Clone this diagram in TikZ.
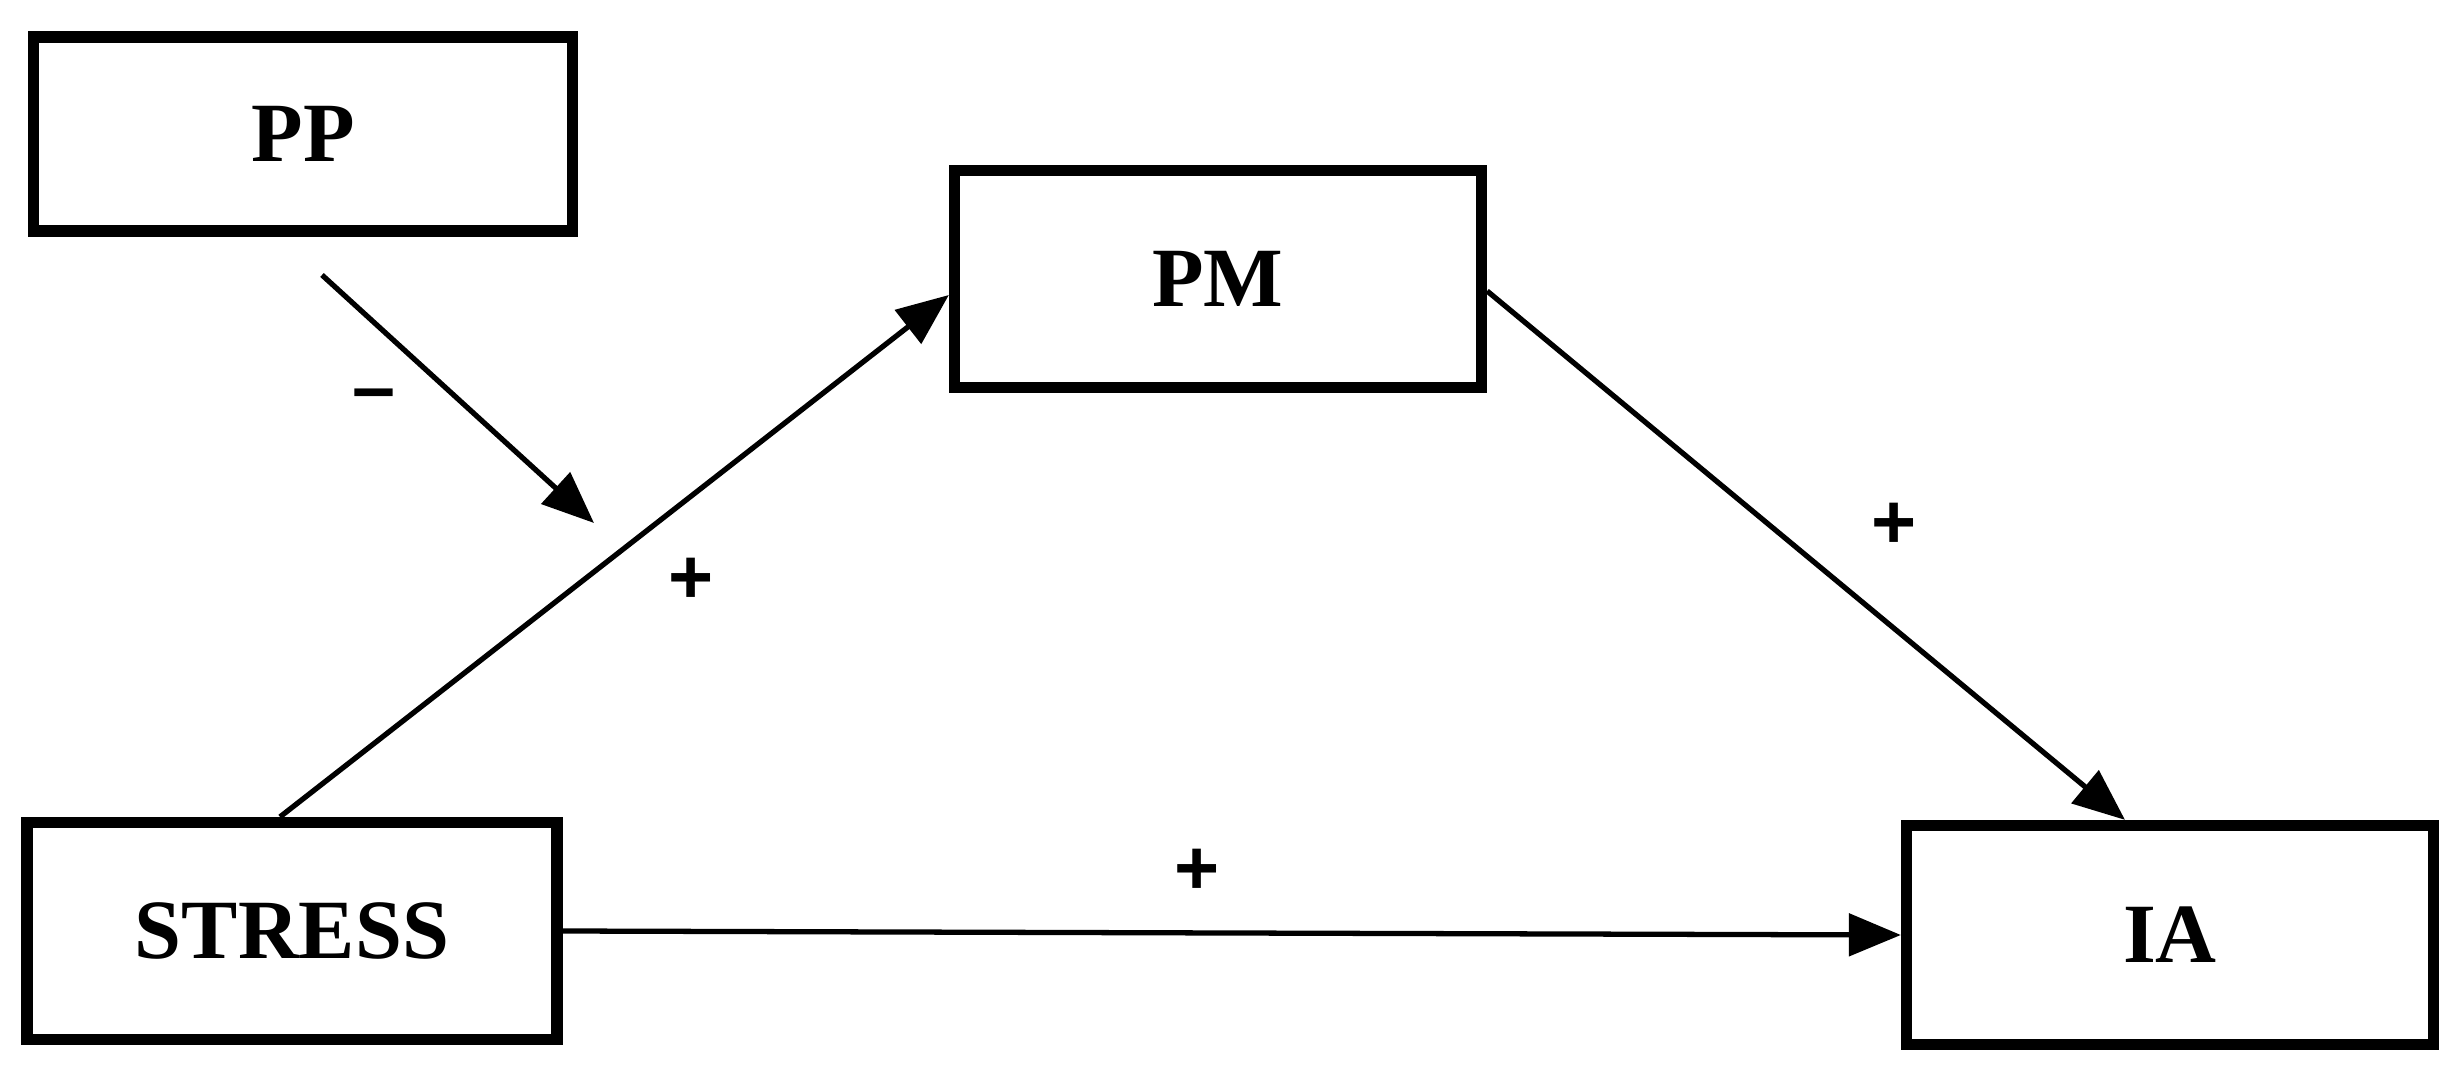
\documentclass[tikz,border=0pt]{standalone}
\usepackage{fontspec}
\setmainfont{Liberation Serif}
\setsansfont{Liberation Sans}
\usetikzlibrary{arrows.meta,positioning}
\tikzset{
  varbox/.style={draw=black,line width=3.2pt,fill=white,inner sep=0pt,
    font=\fontsize{24}{27}\selectfont\bfseries},
  effect/.style={line width=1.5pt,-{Triangle[length=0.52cm,width=0.42cm]}},
  sign/.style={font=\fontsize{22}{24}\selectfont\sffamily\bfseries}
}

\begin{document}
\begin{tikzpicture}
\useasboundingbox (0,0) rectangle (24.64,10.73);
% variables
\node[varbox,minimum width=5.39cm,minimum height=1.94cm] (pp) at (3.03,9.39) {PP};
\node[varbox,minimum width=5.27cm,minimum height=2.17cm] (pm) at (12.18,7.94) {PM};
\node[varbox,minimum width=5.30cm,minimum height=2.17cm] (stress) at (2.92,1.42) {STRESS};
\node[varbox,minimum width=5.27cm,minimum height=2.19cm] (ia) at (21.70,1.38) {IA};
% moderation arrow
\coordinate (pptail) at (3.22,7.98);
\coordinate (pptip) at (5.94,5.50);
% paths
\draw[effect] (pptail) -- (pptip);
\draw[effect] ([xshift=-0.12cm]stress.north) -- ([yshift=-0.16cm]pm.west);
\draw[effect] ([yshift=-0.12cm]pm.east) -- ([xshift=-0.45cm]ia.north);
\draw[effect] (stress.east) -- (ia.west);
% signs
\node[sign] (sgnpp) at (3.74,6.72) {\textendash};
\node[sign] (sgna) at (6.91,4.92) {+};
\node[sign] (sgnb) at (18.94,5.47) {+};
\node[sign] (sgnc) at (11.97,2.01) {+};
\end{tikzpicture}
\end{document}
